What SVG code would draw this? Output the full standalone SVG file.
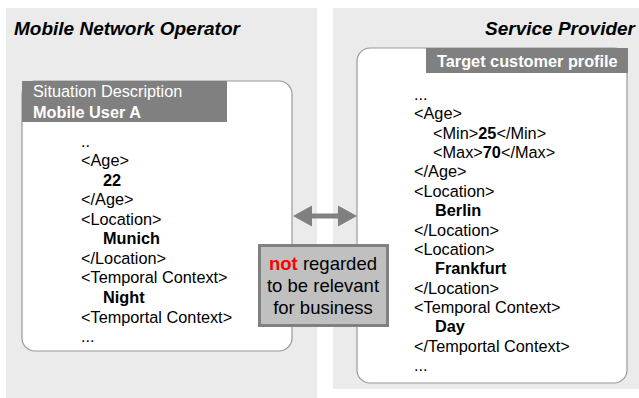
<svg xmlns="http://www.w3.org/2000/svg" width="639" height="398" viewBox="0 0 639 398">
<defs>
<style>
text{font-family:"Liberation Sans",Arial,sans-serif;}
.panel{fill:#ebebeb;}
.card{fill:#ffffff;stroke:#9a9a9a;stroke-width:1.2;}
.hdr{fill:#808080;}
.title{font-size:19px;font-weight:bold;font-style:italic;fill:#000;}
.ht{font-size:16.3px;fill:#fff;}
.t{font-size:16.3px;fill:#000;}
.b{font-weight:bold;}
.bt{font-size:18.5px;fill:#000;text-anchor:middle;}
</style>
</defs>
<rect width="639" height="398" fill="#ffffff"/>
<rect class="panel" x="6" y="8" width="311" height="390"/>
<rect class="panel" x="333" y="8" width="306" height="381"/>
<text class="title" x="14" y="35">Mobile Network Operator</text>
<text class="title" x="635" y="35" text-anchor="end">Service Provider</text>

<g id="situation">
<rect class="card" x="22" y="81" width="270" height="270" rx="13"/>
<rect class="hdr" x="22" y="81" width="205" height="41"/>
<text class="ht" x="33" y="97">Situation Description</text>
<text class="ht b" x="33" y="118">Mobile User A</text>
<text class="t" x="81" y="146.5">..</text>
<text class="t" x="81" y="166">&lt;Age&gt;</text>
<text class="t b" x="103" y="185.6">22</text>
<text class="t" x="81" y="205.2">&lt;/Age&gt;</text>
<text class="t" x="81" y="224.7">&lt;Location&gt;</text>
<text class="t b" x="103" y="244.3">Munich</text>
<text class="t" x="81" y="263.8">&lt;/Location&gt;</text>
<text class="t" x="81" y="283.4">&lt;Temporal Context&gt;</text>
<text class="t b" x="103" y="302.9">Night</text>
<text class="t" x="81" y="322.5">&lt;Temportal Context&gt;</text>
<text class="t" x="81" y="342">...</text>
</g>

<g id="profile">
<rect class="card" x="357" y="48" width="270" height="335" rx="13"/>
<rect class="hdr" x="426" y="48" width="202" height="25"/>
<text class="ht b" x="437" y="67">Target customer profile</text>
<text class="t" x="414" y="100">...</text>
<text class="t" x="414" y="119.4">&lt;Age&gt;</text>
<text class="t" x="433" y="138.7">&lt;Min&gt;<tspan class="b">25</tspan>&lt;/Min&gt;</text>
<text class="t" x="433" y="158">&lt;Max&gt;<tspan class="b">70</tspan>&lt;/Max&gt;</text>
<text class="t" x="414" y="177.4">&lt;/Age&gt;</text>
<text class="t" x="414" y="196.8">&lt;Location&gt;</text>
<text class="t b" x="435" y="216.1">Berlin</text>
<text class="t" x="414" y="235.5">&lt;/Location&gt;</text>
<text class="t" x="414" y="254.9">&lt;Location&gt;</text>
<text class="t b" x="435" y="274.3">Frankfurt</text>
<text class="t" x="414" y="293.6">&lt;/Location&gt;</text>
<text class="t" x="414" y="313">&lt;Temporal Context&gt;</text>
<text class="t b" x="435" y="332.3">Day</text>
<text class="t" x="414" y="351.7">&lt;/Temportal Context&gt;</text>
<text class="t" x="414" y="371">...</text>
</g>

<g id="connectors">
<polygon fill="#808080" points="293,216 312,205.5 312,213.5 338,213.5 338,205.5 357,216 338,226.5 338,218.5 312,218.5 312,226.5"/>
</g>

<g id="note">
<rect x="259.5" y="245.5" width="128" height="80" fill="#c0c0c0" stroke="#808080" stroke-width="3"/>
<text class="bt" x="323" y="270"><tspan fill="#ff0000" font-weight="bold">not</tspan> regarded</text>
<text class="bt" x="323" y="292">to be relevant</text>
<text class="bt" x="323" y="313.5">for business</text>
</g>
</svg>
